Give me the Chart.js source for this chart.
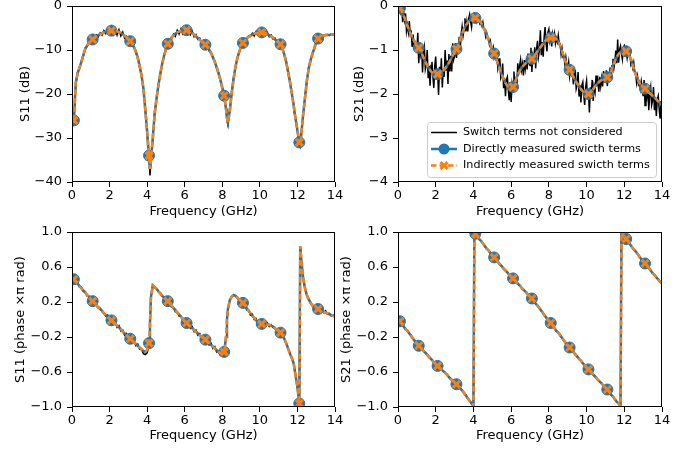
<!DOCTYPE html>
<html><head><meta charset="utf-8">
<script src="https://cdn.jsdelivr.net/npm/chart.js@4/dist/chart.umd.min.js"></script>
<style>
html,body{margin:0;padding:0;background:#fff;}
#wrap{position:relative;width:697px;height:451px;overflow:hidden;background:#fff;}
#wrap canvas{position:absolute;left:0;top:-20px;}
</style></head><body><div id="wrap">
<canvas id="c1" width="697" height="471"></canvas>
<canvas id="c2" width="697" height="471"></canvas>
<canvas id="c3" width="697" height="471"></canvas>
<canvas id="c4" width="697" height="471"></canvas>
</div>
<script>
// ---------- DATA ----------
const seriesNames = ['Switch terms not considered', 'Directly measured swicth terms', 'Indirectly measured swicth terms'];
const freq = [
0.1,0.2,0.3,0.4,0.5,0.6,0.7,0.8,0.9,
1.0,1.1,1.2,1.3,1.4,1.5,1.6,1.7,1.8,1.9,
2.0,2.1,2.2,2.3,2.4,2.5,2.6,2.7,2.8,2.9,
3.0,3.1,3.2,3.3,3.4,3.5,3.6,3.7,3.8,3.9,
4.0,4.05,4.1,4.15,4.2,4.3,4.4,4.5,4.6,4.7,4.8,4.9,
5.0,5.1,5.2,5.3,5.4,5.5,5.6,5.7,5.8,5.9,
6.0,6.1,6.2,6.3,6.4,6.5,6.6,6.7,6.8,6.9,
7.0,7.1,7.2,7.3,7.4,7.5,7.6,7.7,7.8,7.9,
8.0,8.1,8.2,8.25,8.3,8.4,8.5,8.6,8.7,8.8,8.9,
9.0,9.1,9.2,9.3,9.4,9.5,9.6,9.7,9.8,9.9,
10.0,10.1,10.2,10.3,10.4,10.5,10.6,10.7,10.8,10.9,
11.0,11.1,11.2,11.3,11.4,11.5,11.6,11.7,11.8,11.85,11.9,
12.0,12.1,12.15,12.2,12.3,12.4,12.5,12.6,12.7,12.8,12.9,
13.0,13.1,13.2,13.3,13.4,13.5,13.6,13.7,13.8,13.9,
14.0];
// finer frequency grid used by the noisy uncorrected S21 magnitude trace
const freqFine = [
0.1,0.15,0.2,0.25,0.3,0.35,0.4,0.45,0.5,0.55,0.6,0.65,0.7,0.75,0.8,0.85,0.9,0.95,
1.0,1.05,1.1,1.15,1.2,1.25,1.3,1.35,1.4,1.45,1.5,1.55,1.6,1.65,1.7,1.75,1.8,1.85,1.9,1.95,
2.0,2.05,2.1,2.15,2.2,2.25,2.3,2.35,2.4,2.45,2.5,2.55,2.6,2.65,2.7,2.75,2.8,2.85,2.9,2.95,
3.0,3.05,3.1,3.15,3.2,3.25,3.3,3.35,3.4,3.45,3.5,3.55,3.6,3.65,3.7,3.75,3.8,3.85,3.9,3.95,
4.0,4.05,4.1,4.15,4.2,4.25,4.3,4.35,4.4,4.45,4.5,4.55,4.6,4.65,4.7,4.75,4.8,4.85,4.9,4.95,
5.0,5.05,5.1,5.15,5.2,5.25,5.3,5.35,5.4,5.45,5.5,5.55,5.6,5.65,5.7,5.75,5.8,5.85,5.9,5.95,
6.0,6.05,6.1,6.15,6.2,6.25,6.3,6.35,6.4,6.45,6.5,6.55,6.6,6.65,6.7,6.75,6.8,6.85,6.9,6.95,
7.0,7.05,7.1,7.15,7.2,7.25,7.3,7.35,7.4,7.45,7.5,7.55,7.6,7.65,7.7,7.75,7.8,7.85,7.9,7.95,
8.0,8.05,8.1,8.15,8.2,8.25,8.3,8.35,8.4,8.45,8.5,8.55,8.6,8.65,8.7,8.75,8.8,8.85,8.9,8.95,
9.0,9.05,9.1,9.15,9.2,9.25,9.3,9.35,9.4,9.45,9.5,9.55,9.6,9.65,9.7,9.75,9.8,9.85,9.9,9.95,
10.0,10.05,10.1,10.15,10.2,10.25,10.3,10.35,10.4,10.45,10.5,10.55,10.6,10.65,10.7,10.75,10.8,10.85,10.9,10.95,
11.0,11.05,11.1,11.15,11.2,11.25,11.3,11.35,11.4,11.45,11.5,11.55,11.6,11.65,11.7,11.75,11.8,11.85,11.9,11.95,
12.0,12.05,12.1,12.15,12.2,12.25,12.3,12.35,12.4,12.45,12.5,12.55,12.6,12.65,12.7,12.75,12.8,12.85,12.9,12.95,
13.0,13.05,13.1,13.15,13.2,13.25,13.3,13.35,13.4,13.45,13.5,13.55,13.6,13.65,13.7,13.75,13.8,13.85,13.9,13.95,
14.0];
const markerFreqs = [0.1,1.1,2.1,3.1,4.1,5.1,6.1,7.1,8.1,9.1,10.1,11.1,12.1,13.1];
const xTicks = [0,2,4,6,8,10,12,14];
const s11DbTicks = [0,-10,-20,-30,-40];
const s21DbTicks = [0,-1,-2,-3,-4];
const phaseTicks = [1.0,0.6,0.2,-0.2,-0.6,-1.0];

// S11 magnitude (dB)
const s11DbRaw = [
-26.3,-17.8,-15.0,-14.2,-12.5,-11.4,-9.6,-9.2,-8.1,
-8.3,-7.3,-7.5,-6.6,-7.0,-6.1,-6.6,-5.6,-6.3,-5.3,
-6.2,-4.8,-6.4,-5.1,-6.6,-5.4,-6.8,-5.9,-7.3,-6.9,
-7.9,-7.7,-8.9,-9.2,-10.7,-11.6,-14.0,-15.6,-18.9,-23.3,
-29.0,-32.0,-34.5,-38.5,-35.5,-30.2,-24.3,-21.2,-17.8,-15.6,-13.0,-11.5,
-9.6,-8.8,-7.6,-7.5,-6.4,-6.9,-5.5,-6.4,-5.2,-6.3,
-5.0,-6.2,-5.4,-6.5,-5.7,-7.0,-6.5,-7.6,-7.3,-8.5,
-8.0,-9.2,-9.0,-10.2,-10.4,-11.9,-12.5,-14.2,-15.1,-17.0,
-18.4,-20.8,-23.3,-26.0,-27.0,-23.5,-20.1,-16.4,-14.1,-11.7,-10.6,
-9.0,-8.6,-7.6,-7.5,-6.8,-6.9,-6.2,-6.8,-5.8,-6.5,
-5.7,-6.6,-5.8,-6.5,-6.0,-7.0,-6.6,-7.5,-7.3,-8.2,
-8.0,-8.9,-9.5,-11.1,-12.5,-15.0,-17.0,-20.0,-22.4,-24.4,-25.5,
-28.5,-31.2,-31.8,-29.3,-25.0,-20.8,-17.2,-14.0,-12.4,-10.8,-9.7,
-8.1,-7.5,-6.9,-6.9,-6.6,-6.7,-6.5,-6.7,-6.4,-6.6,
-6.5];
const s11DbDirect = [
-26.0,-17.5,-15.3,-14.0,-12.7,-11.2,-9.8,-9.0,-8.4,
-8.0,-7.6,-7.2,-6.9,-6.6,-6.4,-6.2,-6.0,-5.9,-5.8,
-5.7,-5.6,-5.6,-5.6,-5.7,-5.9,-6.1,-6.4,-6.8,-7.2,
-7.6,-8.0,-8.6,-9.4,-10.4,-11.8,-13.6,-15.8,-18.6,-23.5,
-28.6,-31.5,-34.0,-37.0,-35.0,-30.0,-24.5,-21.0,-18.0,-15.4,-13.2,-11.3,
-9.8,-8.6,-7.8,-7.2,-6.7,-6.3,-6.0,-5.8,-5.6,-5.5,
-5.5,-5.5,-5.6,-5.8,-6.1,-6.5,-6.9,-7.3,-7.7,-8.1,
-8.4,-8.8,-9.3,-9.9,-10.7,-11.6,-12.7,-13.9,-15.3,-16.8,
-18.6,-20.4,-23.5,-25.5,-26.5,-23.8,-19.8,-16.6,-13.9,-11.9,-10.4,
-9.2,-8.4,-7.8,-7.3,-7.0,-6.7,-6.5,-6.3,-6.2,-6.1,
-6.0,-6.0,-6.1,-6.2,-6.4,-6.6,-6.9,-7.2,-7.6,-8.0,
-8.2,-8.7,-9.7,-11.0,-12.7,-14.9,-17.2,-19.8,-22.6,-24.2,-25.6,
-28.3,-31.0,-31.5,-29.5,-24.8,-21.0,-17.0,-14.2,-12.3,-10.9,-9.6,
-8.2,-7.4,-7.0,-6.8,-6.7,-6.6,-6.6,-6.6,-6.5,-6.5,
-6.5];
const s11DbIndirect = [
-26.0,-17.5,-15.3,-14.0,-12.7,-11.2,-9.8,-9.0,-8.4,
-8.0,-7.6,-7.2,-6.9,-6.6,-6.4,-6.2,-6.0,-5.9,-5.8,
-5.7,-5.6,-5.6,-5.6,-5.7,-5.9,-6.1,-6.4,-6.8,-7.2,
-7.6,-8.0,-8.6,-9.4,-10.4,-11.8,-13.6,-15.8,-18.6,-23.5,
-28.6,-31.5,-34.0,-37.0,-35.0,-30.0,-24.5,-21.0,-18.0,-15.4,-13.2,-11.3,
-9.8,-8.6,-7.8,-7.2,-6.7,-6.3,-6.0,-5.8,-5.6,-5.5,
-5.5,-5.5,-5.6,-5.8,-6.1,-6.5,-6.9,-7.3,-7.7,-8.1,
-8.4,-8.8,-9.3,-9.9,-10.7,-11.6,-12.7,-13.9,-15.3,-16.8,
-18.6,-20.4,-23.5,-25.5,-26.5,-23.8,-19.8,-16.6,-13.9,-11.9,-10.4,
-9.2,-8.4,-7.8,-7.3,-7.0,-6.7,-6.5,-6.3,-6.2,-6.1,
-6.0,-6.0,-6.1,-6.2,-6.4,-6.6,-6.9,-7.2,-7.6,-8.0,
-8.2,-8.7,-9.7,-11.0,-12.7,-14.9,-17.2,-19.8,-22.6,-24.2,-25.6,
-28.3,-31.0,-31.5,-29.5,-24.8,-21.0,-17.0,-14.2,-12.3,-10.9,-9.6,
-8.2,-7.4,-7.0,-6.8,-6.7,-6.6,-6.6,-6.6,-6.5,-6.5,
-6.5];

// S21 magnitude (dB) – uncorrected trace on freqFine
const s21DbRaw = [
0.0,-0.15,-0.08,-0.37,-0.14,-0.32,-0.17,-0.57,-0.43,-0.59,-0.34,-0.65,-0.60,-0.93,-0.65,-0.91,-0.79,-1.03,
-1.04,-0.61,-1.30,-0.92,-1.09,-0.86,-1.51,-1.07,-0.94,-1.44,-1.35,-1.00,-1.64,-1.36,-1.81,-1.35,-1.27,-1.60,-1.86,-1.37,
-1.15,-1.67,-1.47,-2.02,-1.38,-1.61,-1.19,-1.85,-1.43,-1.61,-1.00,-1.47,-1.24,-1.77,-1.09,-1.49,-1.13,-1.49,-0.85,-1.22,
-1.14,-0.84,-1.18,-0.89,-0.92,-0.70,-0.98,-0.64,-0.47,-0.68,-0.54,-0.28,-0.58,-0.37,-0.58,-0.28,-0.19,-0.36,-0.48,-0.19,
-0.20,-0.29,-0.25,-0.35,-0.25,-0.32,-0.26,-0.42,-0.37,-0.45,-0.37,-0.52,-0.53,-0.69,-0.61,-0.75,-0.74,-0.88,-0.80,-0.95,
-1.02,-0.94,-1.18,-1.12,-1.21,-1.19,-1.42,-1.34,-1.19,-1.64,-1.58,-1.31,-1.87,-1.65,-2.05,-1.67,-1.61,-1.91,-2.14,-1.73,
-2.18,-1.77,-1.90,-1.49,-1.86,-1.62,-1.86,-1.30,-1.55,-1.36,-1.22,-1.45,-1.32,-1.58,-1.23,-1.43,-1.25,-1.44,-1.08,-1.31,
-1.35,-0.95,-1.50,-1.12,-1.21,-0.94,-1.42,-0.97,-0.79,-1.15,-1.00,-0.55,-1.12,-0.82,-1.15,-0.71,-0.48,-0.84,-1.03,-0.60,
-0.53,-0.79,-0.68,-0.92,-0.64,-0.76,-0.63,-0.85,-0.74,-0.82,-0.67,-0.87,-0.86,-1.10,-0.97,-1.17,-1.14,-1.32,-1.17,-1.36,
-1.43,-1.28,-1.60,-1.46,-1.56,-1.48,-1.78,-1.61,-1.45,-1.88,-1.79,-1.50,-2.04,-1.80,-2.19,-1.80,-1.73,-2.02,-2.25,-1.84,
-1.70,-2.09,-1.94,-2.42,-1.85,-2.01,-1.68,-2.16,-1.83,-1.95,-1.58,-1.82,-1.69,-1.95,-1.61,-1.82,-1.64,-1.83,-1.48,-1.72,
-1.73,-1.46,-1.82,-1.55,-1.60,-1.40,-1.69,-1.36,-1.20,-1.41,-1.27,-1.01,-1.30,-0.76,-1.29,-0.99,-0.91,-1.08,-1.21,-0.93,
-0.90,-1.06,-1.01,-1.18,-1.03,-1.14,-1.06,-1.33,-1.27,-1.40,-1.29,-1.51,-1.51,-1.74,-1.60,-1.78,-1.73,-1.88,-1.71,-1.87,
-2.05,-1.68,-2.26,-1.92,-2.06,-1.84,-2.37,-1.97,-1.84,-2.25,-2.15,-1.84,-2.37,-2.12,-2.50,-2.11,-2.04,-2.33,-2.56,-2.16,
-2.62];
const s21DbDirect = [
-0.05,-0.12,-0.22,-0.33,-0.45,-0.56,-0.66,-0.75,-0.83,
-0.90,-0.95,-1.02,-1.12,-1.22,-1.31,-1.39,-1.46,-1.51,-1.54,
-1.55,-1.55,-1.54,-1.51,-1.47,-1.42,-1.36,-1.29,-1.21,-1.13,
-1.06,-0.98,-0.88,-0.76,-0.63,-0.52,-0.44,-0.38,-0.33,-0.30,
-0.28,-0.27,-0.27,-0.27,-0.28,-0.32,-0.38,-0.46,-0.55,-0.65,-0.76,-0.87,
-0.98,-1.08,-1.19,-1.31,-1.43,-1.55,-1.66,-1.75,-1.82,-1.87,
-1.88,-1.84,-1.74,-1.62,-1.52,-1.44,-1.38,-1.33,-1.29,-1.26,
-1.23,-1.20,-1.15,-1.09,-1.03,-0.97,-0.91,-0.85,-0.80,-0.76,
-0.73,-0.72,-0.72,-0.72,-0.73,-0.75,-0.80,-0.90,-1.03,-1.16,-1.28,
-1.37,-1.45,-1.53,-1.61,-1.69,-1.76,-1.83,-1.89,-1.94,-1.98,
-2.00,-2.00,-1.97,-1.92,-1.86,-1.80,-1.75,-1.71,-1.68,-1.66,
-1.65,-1.62,-1.56,-1.47,-1.36,-1.25,-1.16,-1.09,-1.05,-1.04,-1.03,
-1.02,-1.03,-1.05,-1.08,-1.16,-1.28,-1.42,-1.55,-1.66,-1.75,-1.82,
-1.85,-1.88,-1.92,-1.96,-2.00,-2.04,-2.08,-2.12,-2.17,-2.21,
-2.25];
const s21DbIndirect = [
-0.05,-0.12,-0.22,-0.33,-0.45,-0.56,-0.66,-0.75,-0.83,
-0.90,-0.95,-1.02,-1.12,-1.22,-1.31,-1.39,-1.46,-1.51,-1.54,
-1.55,-1.55,-1.54,-1.51,-1.47,-1.42,-1.36,-1.29,-1.21,-1.13,
-1.06,-0.98,-0.88,-0.76,-0.63,-0.52,-0.44,-0.38,-0.33,-0.30,
-0.28,-0.27,-0.27,-0.27,-0.28,-0.32,-0.38,-0.46,-0.55,-0.65,-0.76,-0.87,
-0.98,-1.08,-1.19,-1.31,-1.43,-1.55,-1.66,-1.75,-1.82,-1.87,
-1.88,-1.84,-1.74,-1.62,-1.52,-1.44,-1.38,-1.33,-1.29,-1.26,
-1.23,-1.20,-1.15,-1.09,-1.03,-0.97,-0.91,-0.85,-0.80,-0.76,
-0.73,-0.72,-0.72,-0.72,-0.73,-0.75,-0.80,-0.90,-1.03,-1.16,-1.28,
-1.37,-1.45,-1.53,-1.61,-1.69,-1.76,-1.83,-1.89,-1.94,-1.98,
-2.00,-2.00,-1.97,-1.92,-1.86,-1.80,-1.75,-1.71,-1.68,-1.66,
-1.65,-1.62,-1.56,-1.47,-1.36,-1.25,-1.16,-1.09,-1.05,-1.04,-1.03,
-1.02,-1.03,-1.05,-1.08,-1.16,-1.28,-1.42,-1.55,-1.66,-1.75,-1.82,
-1.85,-1.88,-1.92,-1.96,-2.00,-2.04,-2.08,-2.12,-2.17,-2.21,
-2.25];

// S11 phase (x pi rad)
const s11PhRaw = [
0.47,0.42,0.42,0.37,0.37,0.32,0.32,0.27,0.27,
0.22,0.22,0.18,0.17,0.13,0.13,0.09,0.08,0.04,0.05,
0.00,0.00,-0.05,-0.03,-0.09,-0.07,-0.13,-0.12,-0.18,-0.16,
-0.22,-0.20,-0.26,-0.24,-0.30,-0.28,-0.34,-0.34,-0.39,-0.40,
-0.38,-0.34,-0.28,-0.05,0.25,0.39,0.37,0.35,0.32,0.30,0.27,0.25,
0.23,0.20,0.19,0.14,0.14,0.09,0.09,0.04,0.04,-0.01,
0.00,-0.06,-0.05,-0.10,-0.08,-0.14,-0.12,-0.18,-0.16,-0.22,
-0.19,-0.25,-0.23,-0.29,-0.27,-0.33,-0.31,-0.37,-0.36,-0.41,
-0.40,-0.37,-0.20,0.00,0.12,0.22,0.26,0.28,0.27,0.26,0.21,
0.22,0.17,0.17,0.11,0.11,0.05,0.06,0.00,0.01,-0.05,
-0.03,-0.07,-0.04,-0.07,-0.04,-0.08,-0.06,-0.09,-0.09,-0.12,
-0.13,-0.15,-0.18,-0.22,-0.27,-0.33,-0.39,-0.44,-0.50,-0.57,-0.64,
-0.77,-0.96,0.84,0.70,0.48,0.36,0.28,0.23,0.19,0.16,0.14,
0.13,0.12,0.11,0.11,0.08,0.10,0.06,0.07,0.04,0.05,
0.03];
const s11PhDirect = [
0.46,0.43,0.41,0.38,0.36,0.33,0.31,0.28,0.26,
0.23,0.21,0.19,0.16,0.14,0.12,0.10,0.07,0.05,0.03,
0.01,-0.01,-0.03,-0.05,-0.07,-0.09,-0.11,-0.14,-0.16,-0.18,
-0.20,-0.22,-0.24,-0.26,-0.28,-0.30,-0.32,-0.34,-0.36,-0.37,
-0.35,-0.32,-0.27,-0.05,0.25,0.39,0.37,0.35,0.32,0.30,0.27,0.25,
0.23,0.21,0.18,0.16,0.13,0.11,0.08,0.06,0.03,0.01,
-0.02,-0.04,-0.06,-0.08,-0.10,-0.12,-0.14,-0.16,-0.18,-0.20,
-0.21,-0.23,-0.25,-0.27,-0.29,-0.31,-0.33,-0.35,-0.37,-0.38,
-0.38,-0.37,-0.20,0.00,0.12,0.22,0.26,0.28,0.27,0.25,0.23,
0.21,0.19,0.16,0.13,0.10,0.07,0.04,0.02,-0.01,-0.03,
-0.04,-0.05,-0.05,-0.05,-0.06,-0.06,-0.07,-0.08,-0.10,-0.12,
-0.13,-0.15,-0.18,-0.22,-0.27,-0.33,-0.39,-0.44,-0.50,-0.57,-0.64,
-0.77,-0.96,0.84,0.70,0.48,0.36,0.28,0.23,0.19,0.16,0.14,
0.13,0.12,0.11,0.10,0.09,0.08,0.07,0.06,0.05,0.04,
0.04];
const s11PhIndirect = [
0.46,0.43,0.41,0.38,0.36,0.33,0.31,0.28,0.26,
0.23,0.21,0.19,0.16,0.14,0.12,0.10,0.07,0.05,0.03,
0.01,-0.01,-0.03,-0.05,-0.07,-0.09,-0.11,-0.14,-0.16,-0.18,
-0.20,-0.22,-0.24,-0.26,-0.28,-0.30,-0.32,-0.34,-0.36,-0.37,
-0.35,-0.32,-0.27,-0.05,0.25,0.39,0.37,0.35,0.32,0.30,0.27,0.25,
0.23,0.21,0.18,0.16,0.13,0.11,0.08,0.06,0.03,0.01,
-0.02,-0.04,-0.06,-0.08,-0.10,-0.12,-0.14,-0.16,-0.18,-0.20,
-0.21,-0.23,-0.25,-0.27,-0.29,-0.31,-0.33,-0.35,-0.37,-0.38,
-0.38,-0.37,-0.20,0.00,0.12,0.22,0.26,0.28,0.27,0.25,0.23,
0.21,0.19,0.16,0.13,0.10,0.07,0.04,0.02,-0.01,-0.03,
-0.04,-0.05,-0.05,-0.05,-0.06,-0.06,-0.07,-0.08,-0.10,-0.12,
-0.13,-0.15,-0.18,-0.22,-0.27,-0.33,-0.39,-0.44,-0.50,-0.57,-0.64,
-0.77,-0.96,0.84,0.70,0.48,0.36,0.28,0.23,0.19,0.16,0.14,
0.13,0.12,0.11,0.10,0.09,0.08,0.07,0.06,0.05,0.04,
0.04];

// S21 phase (x pi rad)
const s21PhRaw = [
-0.01,-0.05,-0.07,-0.11,-0.13,-0.16,-0.18,-0.22,-0.24,
-0.27,-0.29,-0.32,-0.34,-0.37,-0.39,-0.41,-0.44,-0.46,-0.48,
-0.51,-0.52,-0.55,-0.57,-0.59,-0.61,-0.63,-0.65,-0.68,-0.70,
-0.72,-0.74,-0.76,-0.78,-0.81,-0.84,-0.86,-0.90,-0.93,-0.96,
-0.99,0.995,0.98,0.965,0.95,0.92,0.895,0.87,0.84,0.81,0.785,0.76,
0.74,0.71,0.68,0.655,0.63,0.61,0.58,0.56,0.535,0.51,
0.49,0.465,0.45,0.42,0.40,0.375,0.35,0.33,0.305,0.28,
0.26,0.235,0.21,0.18,0.155,0.13,0.10,0.065,0.04,0.01,
-0.01,-0.045,-0.07,-0.085,-0.10,-0.135,-0.15,-0.185,-0.21,-0.245,-0.27,
-0.29,-0.325,-0.35,-0.375,-0.40,-0.425,-0.45,-0.475,-0.50,-0.525,
-0.55,-0.575,-0.59,-0.625,-0.64,-0.665,-0.69,-0.715,-0.73,-0.76,
-0.78,-0.805,-0.83,-0.865,-0.88,-0.915,-0.94,-0.965,-0.99,0.995,0.98,
0.95,0.92,0.905,0.885,0.86,0.83,0.80,0.775,0.75,0.72,0.69,
0.67,0.64,0.61,0.585,0.56,0.53,0.51,0.48,0.455,0.43,
0.41];
const s21PhDirect = [
-0.02,-0.05,-0.08,-0.11,-0.13,-0.16,-0.19,-0.22,-0.25,
-0.27,-0.30,-0.32,-0.35,-0.37,-0.39,-0.42,-0.44,-0.46,-0.49,
-0.51,-0.53,-0.55,-0.57,-0.59,-0.61,-0.63,-0.66,-0.68,-0.70,
-0.72,-0.74,-0.76,-0.79,-0.81,-0.84,-0.87,-0.90,-0.93,-0.96,
-0.99,0.995,0.98,0.965,0.95,0.92,0.90,0.87,0.84,0.81,0.79,0.76,
0.74,0.71,0.68,0.66,0.63,0.61,0.58,0.56,0.54,0.51,
0.49,0.47,0.45,0.42,0.40,0.38,0.35,0.33,0.31,0.28,
0.26,0.24,0.21,0.18,0.16,0.13,0.10,0.07,0.04,0.01,
-0.01,-0.04,-0.07,-0.085,-0.10,-0.13,-0.15,-0.18,-0.21,-0.24,-0.27,
-0.29,-0.32,-0.35,-0.37,-0.40,-0.42,-0.45,-0.47,-0.50,-0.52,
-0.55,-0.57,-0.59,-0.62,-0.64,-0.66,-0.69,-0.71,-0.73,-0.76,
-0.78,-0.80,-0.83,-0.86,-0.88,-0.91,-0.94,-0.96,-0.99,0.995,0.98,
0.95,0.92,0.905,0.89,0.86,0.83,0.80,0.78,0.75,0.72,0.69,
0.67,0.64,0.61,0.59,0.56,0.53,0.51,0.48,0.46,0.43,
0.41];
const s21PhIndirect = [
-0.02,-0.05,-0.08,-0.11,-0.13,-0.16,-0.19,-0.22,-0.25,
-0.27,-0.30,-0.32,-0.35,-0.37,-0.39,-0.42,-0.44,-0.46,-0.49,
-0.51,-0.53,-0.55,-0.57,-0.59,-0.61,-0.63,-0.66,-0.68,-0.70,
-0.72,-0.74,-0.76,-0.79,-0.81,-0.84,-0.87,-0.90,-0.93,-0.96,
-0.99,0.995,0.98,0.965,0.95,0.92,0.90,0.87,0.84,0.81,0.79,0.76,
0.74,0.71,0.68,0.66,0.63,0.61,0.58,0.56,0.54,0.51,
0.49,0.47,0.45,0.42,0.40,0.38,0.35,0.33,0.31,0.28,
0.26,0.24,0.21,0.18,0.16,0.13,0.10,0.07,0.04,0.01,
-0.01,-0.04,-0.07,-0.085,-0.10,-0.13,-0.15,-0.18,-0.21,-0.24,-0.27,
-0.29,-0.32,-0.35,-0.37,-0.40,-0.42,-0.45,-0.47,-0.50,-0.52,
-0.55,-0.57,-0.59,-0.62,-0.64,-0.66,-0.69,-0.71,-0.73,-0.76,
-0.78,-0.80,-0.83,-0.86,-0.88,-0.91,-0.94,-0.96,-0.99,0.995,0.98,
0.95,0.92,0.905,0.89,0.86,0.83,0.80,0.78,0.75,0.72,0.69,
0.67,0.64,0.61,0.59,0.56,0.53,0.51,0.48,0.46,0.43,
0.41];

// ---------- STYLE / LAYOUT ----------
const FONT = 'DejaVu Sans';
const FS = 13;
const W = 697, H = 471, OFF = 20, YW = 60, XH = 43;
const C_BLACK = '#000000', C_BLUE = '#1f77b4', C_ORANGE = '#ff7f0e';
Chart.defaults.font.family = FONT;
Chart.defaults.color = '#000';

const fmtInt = v => (v < 0 ? '\u2212' + Math.abs(v) : String(v));
const fmtPh = v => (v < -1e-9 ? '\u2212' : '') + Math.abs(v).toFixed(1);
const isMarker = c => markerFreqs.indexOf(freq[c.dataIndex]) >= 0;
const pts = (fs, vals) => fs.map((f, i) => ({x: f, y: vals[i]}));

const boxPlugin = {
  id: 'axbox',
  afterDatasetsDraw(chart) {
    const a = chart.chartArea, ctx = chart.ctx;
    ctx.save();
    ctx.strokeStyle = '#000'; ctx.lineWidth = 1;
    ctx.strokeRect(Math.round(a.left) + 0.5, Math.round(a.top) + 0.5,
                   Math.round(a.right - a.left) - 1, Math.round(a.bottom - a.top) - 1);
    ctx.restore();
  }
};

function drawX(ctx, x, y, r, w, color) {
  const d = r * Math.SQRT1_2;
  ctx.save(); ctx.strokeStyle = color; ctx.lineWidth = w; ctx.setLineDash([]);
  ctx.beginPath(); ctx.moveTo(x - d, y - d); ctx.lineTo(x + d, y + d);
  ctx.moveTo(x - d, y + d); ctx.lineTo(x + d, y - d); ctx.stroke(); ctx.restore();
}

const legendPlugin = {
  id: 'insetLegend',
  afterDraw(chart, args, opts) {
    if (!opts || !opts.show) return;
    const ctx = chart.ctx, a = chart.chartArea;
    const w = 229, h = 55;
    const x0 = Math.round(a.right) - 6 - w, y0 = Math.round(a.bottom) - 5 - h;
    ctx.save();
    ctx.beginPath();
    ctx.roundRect(x0 + 0.5, y0 + 0.5, w, h, 3);
    ctx.fillStyle = 'rgba(255,255,255,0.85)'; ctx.fill();
    ctx.strokeStyle = '#cccccc'; ctx.lineWidth = 1; ctx.stroke();
    const rowsY = [y0 + 10.5, y0 + 27, y0 + 43.5];
    const hx0 = x0 + 4, hx1 = x0 + 30, hxc = (hx0 + hx1) / 2;
    ctx.font = '11.2px "' + FONT + '"';
    ctx.textBaseline = 'middle'; ctx.textAlign = 'left';
    for (let i = 0; i < 3; i++) {
      const y = rowsY[i];
      ctx.save();
      if (i === 0) { ctx.strokeStyle = C_BLACK; ctx.lineWidth = 1.5; }
      if (i === 1) { ctx.strokeStyle = C_BLUE; ctx.lineWidth = 2.5; }
      if (i === 2) { ctx.strokeStyle = C_ORANGE; ctx.lineWidth = 2.5; ctx.setLineDash([5.5, 3]); }
      ctx.beginPath(); ctx.moveTo(hx0, y); ctx.lineTo(hx1, y); ctx.stroke();
      ctx.restore();
      if (i === 1) {
        ctx.beginPath(); ctx.arc(hxc, y, 5.5, 0, Math.PI * 2);
        ctx.fillStyle = C_BLUE; ctx.fill();
      }
      if (i === 2) drawX(ctx, hxc, y, 5, 3, C_ORANGE);
      ctx.fillStyle = '#000';
      ctx.fillText(seriesNames[i], x0 + 36, y);
    }
    ctx.restore();
  }
};

function makeChart(id, area, yMin, yMax, yTicks, yFmt, yTitle, yTitlePad, xTitlePad, rawFreq, raw, direct, indirect, showLegend) {
  const padding = {left: area.l - YW, right: W - area.r, top: area.t + OFF, bottom: H - (area.b + OFF) - XH};
  const tickFont = {family: FONT, size: FS};
  const grid = {drawOnChartArea: false, drawTicks: true, tickLength: 5, tickColor: '#000', color: '#000', lineWidth: 1};
  return new Chart(document.getElementById(id), {
    type: 'line',
    data: {
      datasets: [
        {label: seriesNames[0], data: pts(rawFreq, raw), borderColor: C_BLACK, borderWidth: 1.5,
         pointRadius: 0, pointHoverRadius: 0, order: 2},
        {label: seriesNames[1], data: pts(freq, direct), borderColor: C_BLUE, borderWidth: 2.5,
         pointStyle: 'circle', pointRadius: c => isMarker(c) ? 5.5 : 0, pointHoverRadius: 0,
         pointBackgroundColor: C_BLUE, pointBorderColor: C_BLUE, pointBorderWidth: 1, order: 1},
        {label: seriesNames[2], data: pts(freq, indirect), borderColor: C_ORANGE, borderWidth: 2.5, borderDash: [5.5, 3],
         pointStyle: 'crossRot', pointRadius: c => isMarker(c) ? 5 : 0, pointHoverRadius: 0,
         pointBackgroundColor: C_ORANGE, pointBorderColor: C_ORANGE, pointBorderWidth: 3, order: 0}
      ]
    },
    options: {
      responsive: false, animation: false, devicePixelRatio: 1, events: [],
      layout: {padding},
      plugins: {legend: {display: false}, tooltip: {enabled: false}, insetLegend: {show: showLegend}},
      scales: {
        x: {
          type: 'linear', min: 0, max: 14,
          afterBuildTicks: s => { s.ticks = xTicks.map(v => ({value: v})); },
          afterFit: s => { s.height = XH; },
          ticks: {font: tickFont, color: '#000', padding: 1, maxRotation: 0, autoSkip: false, callback: v => String(v)},
          grid, border: {display: false},
          title: {display: true, text: 'Frequency (GHz)', color: '#000', font: tickFont, padding: {top: 0, bottom: xTitlePad}}
        },
        y: {
          type: 'linear', min: yMin, max: yMax,
          afterBuildTicks: s => { s.ticks = yTicks.map(v => ({value: v})); },
          afterFit: s => { s.width = YW; },
          ticks: {font: tickFont, color: '#000', padding: 5, autoSkip: false, callback: yFmt},
          grid, border: {display: false},
          title: {display: true, text: yTitle, color: '#000', font: tickFont, padding: {top: yTitlePad, bottom: 0}}
        }
      }
    },
    plugins: [boxPlugin, legendPlugin]
  });
}

makeChart('c1', {l: 72, r: 335, t: 6, b: 182}, -40, 0, s11DbTicks, fmtInt, 'S11 (dB)', 6.2, 5.2,
          freq, s11DbRaw, s11DbDirect, s11DbIndirect, false);
makeChart('c2', {l: 398, r: 662, t: 6, b: 182}, -4, 0, s21DbTicks, fmtInt, 'S21 (dB)', 14.2, 5.2,
          freqFine, s21DbRaw, s21DbDirect, s21DbIndirect, true);
makeChart('c3', {l: 72, r: 335, t: 232, b: 407}, -1, 1, phaseTicks, fmtPh, 'S11 (phase \u00d7\u03c0 rad)', 1.2, 6.2,
          freq, s11PhRaw, s11PhDirect, s11PhIndirect, false);
makeChart('c4', {l: 398, r: 662, t: 232, b: 407}, -1, 1, phaseTicks, fmtPh, 'S21 (phase \u00d7\u03c0 rad)', 1.2, 6.2,
          freq, s21PhRaw, s21PhDirect, s21PhIndirect, false);
</script>
</body></html>
